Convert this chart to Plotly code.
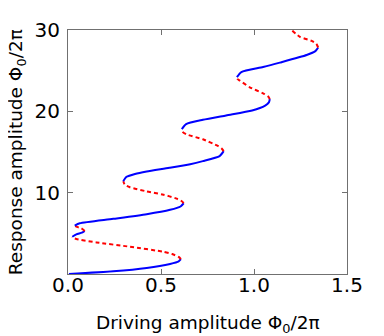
import plotly.graph_objects as go

# Response curve, ordered by response amplitude
response = [0.0, 0.33, 0.74, 1.24, 1.55, 1.82,
            2.10, 2.45, 2.73, 3.35, 3.88, 4.30, 4.45, 4.58,
            4.87, 5.08, 5.29,
            5.61, 5.82, 5.95,
            6.23, 6.78, 7.35, 7.89, 8.30, 8.70,
            8.95, 9.30, 9.75, 10.16, 10.66, 11.00, 11.40,
            11.95, 12.30, 12.60, 13.05, 13.50, 13.88, 14.50, 15.10,
            15.45, 15.74, 16.56, 17.19, 17.50, 17.81,
            18.43, 18.96, 19.50, 20.10, 20.70, 21.10, 21.50,
            21.85, 22.22, 22.96, 23.79, 24.00, 24.20,
            24.83, 25.45, 25.99, 26.92, 27.40, 27.85,
            28.30, 28.66, 29.16, 30.0]
drive = [0.005, 0.243, 0.423, 0.549, 0.595, 0.607,
         0.595, 0.560, 0.513, 0.333, 0.153, 0.045, 0.027, 0.023,
         0.045, 0.075, 0.090,
         0.072, 0.045, 0.036,
         0.063, 0.243, 0.423, 0.549, 0.605, 0.622,
         0.612, 0.580, 0.513, 0.423, 0.333, 0.305, 0.297,
         0.315, 0.360, 0.423, 0.545, 0.657, 0.725, 0.815, 0.837,
         0.825, 0.806, 0.725, 0.635, 0.615, 0.612,
         0.635, 0.725, 0.850, 0.990, 1.060, 1.080, 1.085,
         1.075, 1.049, 0.977, 0.923, 0.910, 0.908,
         0.932, 1.049, 1.139, 1.283, 1.330, 1.345,
         1.335, 1.310, 1.247, 1.202]

x_ticks = [0.0, 0.5, 1.0, 1.5]
x_labels = ["0.0", "0.5", "1.0", "1.5"]
y_ticks = [10, 20, 30]

COLOR_STABLE = "#0000ff"
COLOR_UNSTABLE = "#ff0000"
COLOR_AXIS = "#707070"

# split the curve at its turning points (local extrema of the drive)
breaks = [0]
for i in range(1, len(drive) - 1):
    if (drive[i] - drive[i - 1]) * (drive[i + 1] - drive[i]) < 0:
        breaks.append(i)
breaks.append(len(drive) - 1)

fig = go.Figure()
for a, b in zip(breaks[:-1], breaks[1:]):
    stable = drive[b] > drive[a]
    fig.add_trace(go.Scatter(
        x=drive[a:b + 1], y=response[a:b + 1],
        mode="lines",
        line=dict(color=COLOR_STABLE if stable else COLOR_UNSTABLE,
                  width=2, dash="solid" if stable else "4px,3px",
                  shape="spline", smoothing=0.6),
        showlegend=False, hoverinfo="skip",
    ))

axis_style = dict(
    showgrid=False, zeroline=False, automargin=False,
    showline=True, linecolor=COLOR_AXIS, linewidth=1, mirror="ticks",
    ticks="inside", ticklen=5, tickcolor=COLOR_AXIS,
    tickfont=dict(size=20, color="black"),
)

# the page body adds an 8px offset, so margins are trimmed by that amount
fig.update_layout(
    width=384, height=336,
    paper_bgcolor="white", plot_bgcolor="white",
    font=dict(family="DejaVu Sans", color="black"),
    margin=dict(l=60, r=45, t=22, b=70),
    xaxis=dict(range=[0, 1.5], tickvals=x_ticks, ticktext=x_labels,
               ticklabelstandoff=-7, **axis_style),
    yaxis=dict(range=[0, 30], tickvals=y_ticks, ticklabelstandoff=3, **axis_style),
    annotations=[
        dict(text="Driving amplitude Φ<sub>0</sub>/2π", xref="paper", yref="paper",
             x=0.5, y=-0.203, xanchor="center", yanchor="middle",
             showarrow=False, font=dict(size=18.5)),
        dict(text="Response amplitude Φ<sub>0</sub>/2π", xref="paper", yref="paper",
             x=-0.182, y=0.5, xanchor="center", yanchor="middle", textangle=-90,
             showarrow=False, font=dict(size=18.5)),
    ],
)

fig.write_html("out.html")
